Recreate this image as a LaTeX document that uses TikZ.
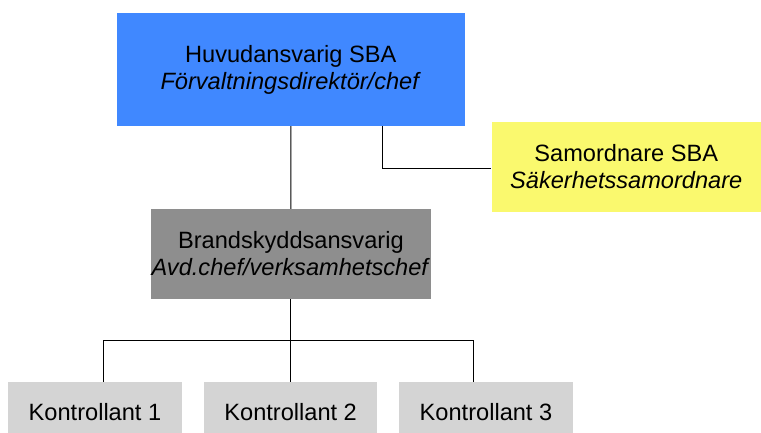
\documentclass[tikz,border=0pt]{standalone}
\usepackage{fontspec}
\setmainfont{Liberation Sans}
\definecolor{topblue}{HTML}{4088FF}
\definecolor{samyellow}{HTML}{FAF96E}
\definecolor{midgray}{HTML}{8E8E8E}
\definecolor{lightgray}{HTML}{D4D4D4}
\begin{document}
\begin{tikzpicture}[x=1pt,y=1pt,
  box/.style={draw=none,inner sep=0pt,align=center,text=black,
    font=\fontsize{23.6}{27}\selectfont},
  link/.style={draw=black,line width=1pt}]
\useasboundingbox (0,0) rectangle (761,-433);
\clip (0,0) rectangle (761,-433);
\node[box,fill=topblue,minimum width=347.5pt,minimum height=112.5pt] (top) at (290.75,-69.75)
  {Huvudansvarig SBA\\\textit{Förvaltningsdirektör/chef}};
\node[box,fill=samyellow,minimum width=269.5pt,minimum height=90pt] (sam) at (626.25,-166.7)
  {Samordnare SBA\\\textit{Säkerhetssamordnare}};
\node[box,fill=midgray,minimum width=280.3pt,minimum height=90pt] (brand) at (290.85,-254)
  {Brandskyddsansvarig\\\textit{Avd.chef/verksamhetschef}};
\node[box,fill=lightgray,minimum width=173.4pt,minimum height=59pt] (k1) at (95,-411.8) {Kontrollant 1};
\node[box,fill=lightgray,minimum width=173.3pt,minimum height=59pt] (k2) at (290.65,-411.8) {Kontrollant 2};
\node[box,fill=lightgray,minimum width=173.4pt,minimum height=59pt] (k3) at (486,-411.8) {Kontrollant 3};
\coordinate (corner) at (382.5,-168.3);
\coordinate (b1) at (103.3,-340);
\coordinate (b3) at (473.7,-340);
\draw[link] (top.south) -- (brand.north);
\draw[link] (top.south -| corner) -- (corner) -- (corner -| sam.west);
\draw[link] (brand.south) -- (brand.south |- k2.north);
\draw[link] (b1) -- (b3);
\draw[link] (b1) -- (b1 |- k1.north);
\draw[link] (b3) -- (b3 |- k3.north);
\end{tikzpicture}
\end{document}
